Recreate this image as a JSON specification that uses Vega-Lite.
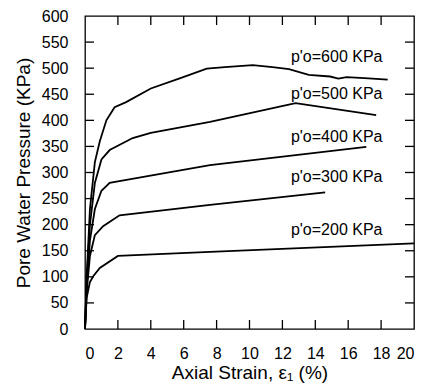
{
  "$schema": "https://vega.github.io/schema/vega-lite/v6.json",
  "width": 329,
  "height": 313,
  "autosize": {"type": "none"},
  "padding": {"left": 85, "top": 16, "right": 8, "bottom": 57},
  "background": "white",
  "config": {
    "view": {"stroke": "black", "strokeWidth": 1.3},
    "font": "Liberation Sans",
    "axis": {"grid": false, "domain": false, "ticks": false, "labelColor": "black", "titleColor": "black", "labelFont": "Liberation Sans", "titleFont": "Liberation Sans", "labelFontSize": 16, "titleFontSize": 19, "titleFontWeight": "normal"}
  },
  "datasets": {
    "curves": [
      {"p": "600", "strain": 0, "u": 0},
      {"p": "600", "strain": 0.1, "u": 100},
      {"p": "600", "strain": 0.3, "u": 230},
      {"p": "600", "strain": 0.6, "u": 320},
      {"p": "600", "strain": 0.9, "u": 360},
      {"p": "600", "strain": 1.3, "u": 400},
      {"p": "600", "strain": 1.8, "u": 425},
      {"p": "600", "strain": 2.5, "u": 435},
      {"p": "600", "strain": 4, "u": 461},
      {"p": "600", "strain": 5.8, "u": 481},
      {"p": "600", "strain": 7.4, "u": 499},
      {"p": "600", "strain": 8.5, "u": 502},
      {"p": "600", "strain": 10.2, "u": 506},
      {"p": "600", "strain": 11.4, "u": 502},
      {"p": "600", "strain": 12.4, "u": 498},
      {"p": "600", "strain": 13.6, "u": 487},
      {"p": "600", "strain": 14.9, "u": 484},
      {"p": "600", "strain": 15.4, "u": 480},
      {"p": "600", "strain": 15.9, "u": 483},
      {"p": "600", "strain": 17, "u": 481},
      {"p": "600", "strain": 18.4, "u": 478},
      {"p": "500", "strain": 0, "u": 0},
      {"p": "500", "strain": 0.1, "u": 90},
      {"p": "500", "strain": 0.3, "u": 200},
      {"p": "500", "strain": 0.6, "u": 280},
      {"p": "500", "strain": 1.0, "u": 325},
      {"p": "500", "strain": 1.5, "u": 343},
      {"p": "500", "strain": 2.9, "u": 366},
      {"p": "500", "strain": 4, "u": 376},
      {"p": "500", "strain": 7.6, "u": 397},
      {"p": "500", "strain": 12.8, "u": 433},
      {"p": "500", "strain": 17.7, "u": 410},
      {"p": "400", "strain": 0, "u": 0},
      {"p": "400", "strain": 0.1, "u": 80},
      {"p": "400", "strain": 0.3, "u": 170},
      {"p": "400", "strain": 0.6, "u": 230},
      {"p": "400", "strain": 1.0, "u": 265},
      {"p": "400", "strain": 1.5, "u": 280},
      {"p": "400", "strain": 2, "u": 283},
      {"p": "400", "strain": 7.6, "u": 314},
      {"p": "400", "strain": 17.1, "u": 349},
      {"p": "300", "strain": 0, "u": 0},
      {"p": "300", "strain": 0.1, "u": 70},
      {"p": "300", "strain": 0.3, "u": 140},
      {"p": "300", "strain": 0.6, "u": 180},
      {"p": "300", "strain": 1.1, "u": 197},
      {"p": "300", "strain": 2.1, "u": 218},
      {"p": "300", "strain": 7.6, "u": 238},
      {"p": "300", "strain": 14.6, "u": 262},
      {"p": "200", "strain": 0, "u": 0},
      {"p": "200", "strain": 0.1, "u": 60},
      {"p": "200", "strain": 0.3, "u": 90},
      {"p": "200", "strain": 0.5, "u": 101},
      {"p": "200", "strain": 0.9, "u": 117},
      {"p": "200", "strain": 2, "u": 140},
      {"p": "200", "strain": 7.6, "u": 148},
      {"p": "200", "strain": 20, "u": 164}
    ],
    "labels": [
      {"text": "p'o=600 KPa", "strain": 15.3, "u": 522},
      {"text": "p'o=500 KPa", "strain": 15.3, "u": 450},
      {"text": "p'o=400 KPa", "strain": 15.3, "u": 369},
      {"text": "p'o=300 KPa", "strain": 15.3, "u": 291},
      {"text": "p'o=200 KPa", "strain": 15.3, "u": 190}
    ],
    "xticks": [{"v": 2}, {"v": 4}, {"v": 6}, {"v": 8}, {"v": 10}, {"v": 12}, {"v": 14}, {"v": 16}, {"v": 18}],
    "yticks": [{"v": 50}, {"v": 100}, {"v": 150}, {"v": 200}, {"v": 250}, {"v": 300}, {"v": 350}, {"v": 400}, {"v": 450}, {"v": 500}, {"v": 550}]
  },
  "layer": [
    {
      "data": {"name": "curves"},
      "mark": {"type": "line", "color": "black", "strokeWidth": 1.8},
      "encoding": {
        "x": {"field": "strain", "type": "quantitative", "scale": {"domain": [0, 20]}, "axis": {"values": [0,2,4,6,8,10,12,14,16,18,20], "title": "Axial Strain, ε₁  (%)", "labelPadding": 16, "titlePadding": 2}},
        "y": {"field": "u", "type": "quantitative", "scale": {"domain": [0, 600]}, "axis": {"values": [0,50,100,150,200,250,300,350,400,450,500,550,600], "title": "Pore Water Pressure  (KPa)", "labelPadding": 17, "titlePadding": 8}},
        "detail": {"field": "p"}
      }
    },
    {
      "data": {"name": "labels"},
      "mark": {"type": "text", "color": "black", "fontSize": 16, "align": "center", "baseline": "middle"},
      "encoding": {
        "x": {"field": "strain", "type": "quantitative", "axis": null},
        "y": {"field": "u", "type": "quantitative", "axis": null},
        "text": {"field": "text"}
      }
    },
    {
      "data": {"name": "xticks"},
      "mark": {"type": "tick", "orient": "vertical", "size": 18, "thickness": 1.3, "color": "black", "opacity": 1, "clip": true},
      "encoding": {
        "x": {"field": "v", "type": "quantitative", "axis": null},
        "y": {"datum": 0, "type": "quantitative", "axis": null}
      }
    },
    {
      "data": {"name": "xticks"},
      "mark": {"type": "tick", "orient": "vertical", "size": 18, "thickness": 1.3, "color": "black", "opacity": 1, "clip": true},
      "encoding": {
        "x": {"field": "v", "type": "quantitative", "axis": null},
        "y": {"datum": 600, "type": "quantitative", "axis": null}
      }
    },
    {
      "data": {"name": "yticks"},
      "mark": {"type": "tick", "orient": "horizontal", "size": 18, "thickness": 1.3, "color": "black", "opacity": 1, "clip": true},
      "encoding": {
        "y": {"field": "v", "type": "quantitative", "axis": null},
        "x": {"datum": 0, "type": "quantitative", "axis": null}
      }
    },
    {
      "data": {"name": "yticks"},
      "mark": {"type": "tick", "orient": "horizontal", "size": 18, "thickness": 1.3, "color": "black", "opacity": 1, "clip": true},
      "encoding": {
        "y": {"field": "v", "type": "quantitative", "axis": null},
        "x": {"datum": 20, "type": "quantitative", "axis": null}
      }
    }
  ],
  "resolve": {"axis": {"x": "independent", "y": "independent"}}
}
